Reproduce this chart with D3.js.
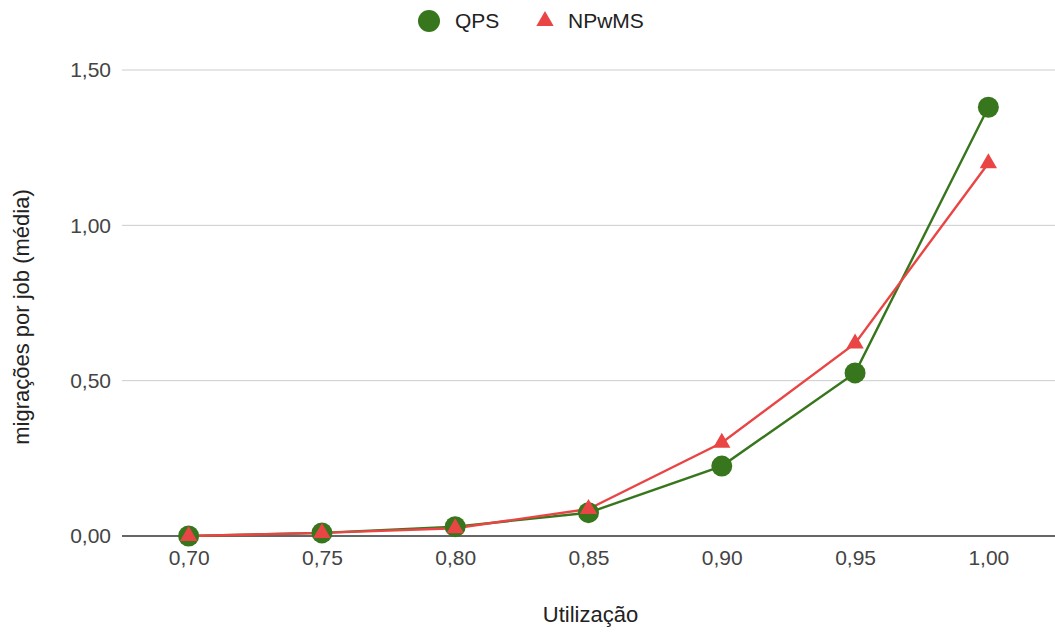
<!DOCTYPE html>
<html>
<head>
<meta charset="utf-8">
<script src="https://cdn.jsdelivr.net/npm/d3@7"></script>
<style>
  body { margin: 0; background: #fff; }
  #chart { width: 1055px; height: 633px; }
  text { font-family: "Liberation Sans", Arial, sans-serif; }
</style>
</head>
<body>
<div id="chart"></div>
<script>
var categories = ["0,70", "0,75", "0,80", "0,85", "0,90", "0,95", "1,00"];
var qps = [0.0, 0.01, 0.03, 0.075, 0.225, 0.525, 1.38];
var npwms = [0.0, 0.01, 0.025, 0.087, 0.30, 0.62, 1.20];
var yTicks = [0, 0.5, 1.0, 1.5];

var series = [
    { name: "QPS", values: qps, color: "#38761d", shape: "circle" },
    { name: "NPwMS", values: npwms, color: "#e94545", shape: "triangle" }
];

var width = 1055, height = 633;
var padding = { left: 122, right: 0, top: 70, bottom: 97 };
var plotWidth = width - padding.left - padding.right;
var plotHeight = height - padding.top - padding.bottom;
var fontSize = 21;
var titleSize = 22;

var x_scale = d3.scalePoint()
    .domain(categories)
    .range([0, plotWidth])
    .padding(0.5);
var y_scale = d3.scaleLinear()
    .domain([0, 1.5])
    .range([plotHeight, 0]);

var svg = d3.select("#chart")
    .append("svg")
    .attr("width", width)
    .attr("height", height);

var plot = svg.append("g")
    .attr("transform", "translate(" + padding.left + "," + padding.top + ")");

// gridlines
plot.selectAll("line.grid")
    .data(yTicks.slice(1))
    .enter()
    .append("line")
    .attr("class", "grid")
    .attr("x1", 0)
    .attr("x2", plotWidth)
    .attr("y1", d => y_scale(d))
    .attr("y2", d => y_scale(d))
    .attr("stroke", "#cccccc")
    .attr("stroke-width", 1);

// y axis labels
var y_axis = d3.axisLeft(y_scale)
    .tickValues(yTicks)
    .tickSize(0)
    .tickPadding(11)
    .tickFormat(d => d3.format(".2f")(d).replace(".", ","));
var yg = plot.append("g").call(y_axis);
yg.select(".domain").remove();
yg.selectAll("text").attr("font-size", fontSize).attr("fill", "#444");

// x axis labels
var x_axis = d3.axisBottom(x_scale)
    .tickSize(0)
    .tickPadding(14);
var xg = plot.append("g")
    .attr("transform", "translate(0," + plotHeight + ")")
    .call(x_axis);
xg.select(".domain").remove();
xg.selectAll("text").attr("font-size", fontSize).attr("fill", "#444");

// baseline
plot.append("line")
    .attr("x1", 0)
    .attr("x2", plotWidth)
    .attr("y1", y_scale(0))
    .attr("y2", y_scale(0))
    .attr("stroke", "#333")
    .attr("stroke-width", 1.3);

var line = d3.line()
    .x((d, i) => x_scale(categories[i]))
    .y(d => y_scale(d));

var triangle = d3.symbol().type(d3.symbolTriangle).size(130);

series.forEach(function (s) {
    plot.append("path")
        .datum(s.values)
        .attr("fill", "none")
        .attr("stroke", s.color)
        .attr("stroke-width", 2.4)
        .attr("d", line);
});

series.forEach(function (s) {
    var pts = plot.append("g");
    if (s.shape === "circle") {
        pts.selectAll("circle")
            .data(s.values)
            .enter()
            .append("circle")
            .attr("cx", (d, i) => x_scale(categories[i]))
            .attr("cy", d => y_scale(d))
            .attr("r", 10.5)
            .attr("fill", s.color);
    } else {
        pts.selectAll("path")
            .data(s.values)
            .enter()
            .append("path")
            .attr("d", triangle)
            .attr("transform", (d, i) => "translate(" + x_scale(categories[i]) + "," + y_scale(d) + ")")
            .attr("fill", s.color);
    }
});

// legend
var legend = svg.append("g").attr("transform", "translate(429,21)");
legend.append("circle").attr("cx", 0).attr("cy", 0).attr("r", 11).attr("fill", series[0].color);
legend.append("text").attr("x", 26).attr("y", 0).attr("dy", "0.35em")
    .attr("font-size", fontSize).attr("fill", "#222").text(series[0].name);
legend.append("path").attr("d", triangle)
    .attr("transform", "translate(116,0)").attr("fill", series[1].color);
legend.append("text").attr("x", 139).attr("y", 0).attr("dy", "0.35em")
    .attr("font-size", fontSize).attr("fill", "#222").text(series[1].name);

// axis titles
svg.append("text")
    .attr("x", padding.left + plotWidth / 2 + 2)
    .attr("y", 622)
    .attr("text-anchor", "middle")
    .attr("font-size", titleSize)
    .attr("fill", "#222")
    .text("Utilização");
svg.append("text")
    .attr("transform", "translate(29,317) rotate(-90)")
    .attr("text-anchor", "middle")
    .attr("font-size", titleSize)
    .attr("fill", "#222")
    .text("migrações por job (média)");
</script>
</body>
</html>
